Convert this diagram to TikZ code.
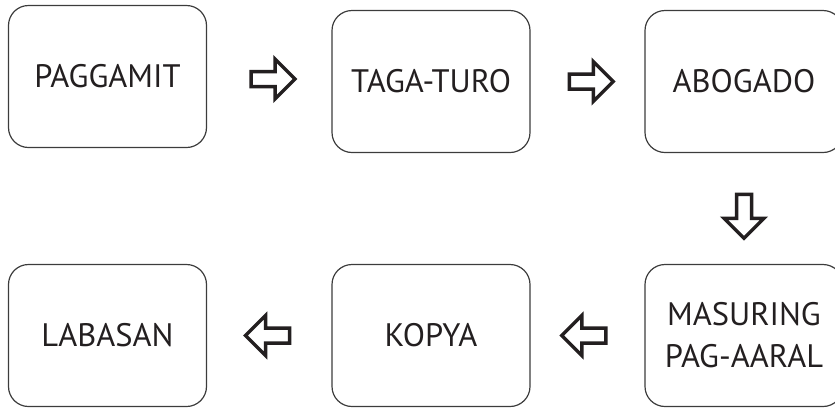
\documentclass[tikz,border=0pt]{standalone}
\usepackage{fontspec}
\setmainfont{PT Sans}
\usetikzlibrary{shapes.arrows,calc}
\definecolor{boxgray}{HTML}{3C3C3C}
\definecolor{inkblack}{HTML}{231F20}

\begin{document}
\begin{tikzpicture}[x=1pt, y=-1pt,
    stagebox/.style={draw=boxgray, line width=1.2pt, rounded corners=20pt,
        minimum width=198pt, minimum height=142pt, align=center,
        text=inkblack, font=\fontsize{32.5}{42}\selectfont},
    flowarrow/.style={single arrow, draw=inkblack, line width=3.5pt, fill=white,
        inner xsep=0pt, inner ysep=5.75pt, minimum height=44pt,
        single arrow head extend=12.5pt, single arrow tip angle=90}]
    \useasboundingbox (0,0) rectangle (835,408);
        \node[stagebox] (paggamit) at (107.5,76.5) {PAGGAMIT};
        \node[stagebox] (tagaturo) at (431,81.5) {TAGA-TURO};
        \node[stagebox] (abogado) at (744,81.5) {ABOGADO};
        \node[stagebox] (masuring) at (744,335.5) {MASURING\\PAG-AARAL};
        \node[stagebox] (kopya) at (431,335.5) {KOPYA};
        \node[stagebox] (labasan) at (107.5,335.5) {LABASAN};
        % block arrows between the stages
        \node[flowarrow] (a1) at ($(paggamit.east)!0.5!(tagaturo.west)$) {};
        \node[flowarrow] (a2) at ($(tagaturo.east)!0.5!(abogado.west)$) {};
        \node[flowarrow, rotate=-90] (a3) at ($(abogado.south)!0.5!(masuring.north)+(0,4)$) {};
        \node[flowarrow, rotate=180] (a4) at ($(masuring.west)!0.5!(kopya.east)$) {};
        \node[flowarrow, rotate=180] (a5) at ($(kopya.west)!0.5!(labasan.east)+(2,0)$) {};
    \end{tikzpicture}
\end{document}
